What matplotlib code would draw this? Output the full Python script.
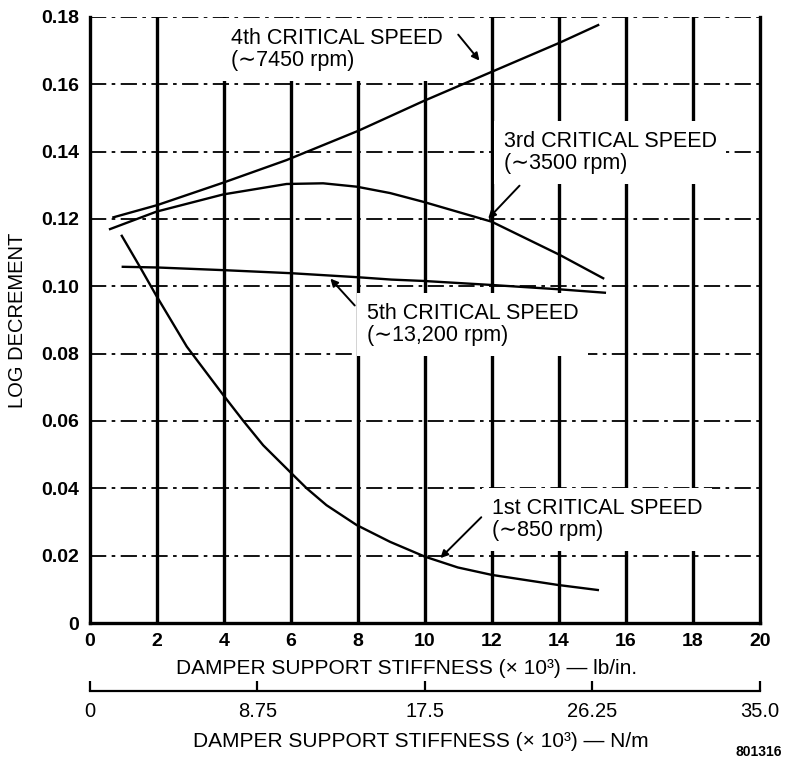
import numpy as np
import matplotlib
matplotlib.use("Agg")
import matplotlib.pyplot as plt

plt.rcParams['font.family'] = ['Liberation Sans', 'DejaVu Sans']

# curves: stiffness (x 10^3 lb/in.) vs log decrement
x_4th = [0.70, 2.0, 3.98, 5.87, 8.01, 9.95, 11.99, 14.03, 15.17]
y_4th = [0.1205, 0.1241, 0.1308, 0.1375, 0.1462, 0.1550, 0.1637, 0.1724, 0.1776]

x_3rd = [0.60, 1.99, 3.98, 5.87, 6.96, 7.96, 8.96, 9.95, 11.99, 14.03, 15.32]
y_3rd = [0.1170, 0.1222, 0.1273, 0.1304, 0.1306, 0.1296, 0.1277, 0.1251, 0.1192, 0.1093, 0.1024]

x_5th = [0.98, 2.0, 4.0, 6.0, 8.0, 9.0, 9.95, 11.99, 14.03, 15.37]
y_5th = [0.1058, 0.1056, 0.1048, 0.1039, 0.1027, 0.1020, 0.1016, 0.1004, 0.0991, 0.0981]

x_1st = [0.95, 1.49, 1.97, 2.89, 3.98, 4.58, 5.17, 5.97, 6.47, 7.06, 7.96, 8.96,
         10.0, 10.98, 11.99, 13.97, 15.16]
y_1st = [0.1150, 0.1058, 0.0974, 0.0821, 0.0677, 0.0600, 0.0528, 0.0449, 0.0400, 0.0350,
         0.0291, 0.0241, 0.0197, 0.0165, 0.0143, 0.0113, 0.0098]

labels = ["4th CRITICAL SPEED\n(\u223c7450 rpm)",
          "3rd CRITICAL SPEED\n(\u223c3500 rpm)",
          "5th CRITICAL SPEED\n(\u223c13,200 rpm)",
          "1st CRITICAL SPEED\n(\u223c850 rpm)"]

x_ticks = np.arange(0, 21, 2)
y_ticks = np.arange(0, 0.181, 0.02)
y_ticklabels = ['0', '0.02', '0.04', '0.06', '0.08', '0.10', '0.12', '0.14', '0.16', '0.18']
si_ticks = [0, 8.75, 17.5, 26.25, 35.0]
si_ticklabels = ['0', '8.75', '17.5', '26.25', '35.0']

fig = plt.figure(figsize=(7.85, 7.72), dpi=100)
ax = fig.add_axes([0.1146, 0.193, 0.8535, 0.785])
ax.set_xlim(0, 20)
ax.set_ylim(0, 0.18)

# grid: heavy solid verticals, dash-dot horizontals
for xv in x_ticks[1:-1]:
    ax.axvline(xv, color='black', lw=2.4, zorder=1)
for yv in y_ticks[1:]:
    ax.axhline(yv, color='black', lw=1.3, ls=(0, (9, 3, 2, 3)), zorder=1)

for sp in ['left', 'right', 'bottom']:
    ax.spines[sp].set_linewidth(2.4)
ax.spines['top'].set_visible(False)

ax.plot(x_4th, y_4th, color='black', lw=1.7, zorder=5)
ax.plot(x_3rd, y_3rd, color='black', lw=1.7, zorder=5)
ax.plot(x_5th, y_5th, color='black', lw=1.7, zorder=5)
ax.plot(x_1st, y_1st, color='black', lw=1.7, zorder=5)

box = dict(facecolor='white', edgecolor='none', pad=7)
tprops = dict(fontsize=15.5, ha='left', va='top', linespacing=1.1, bbox=box, zorder=4)
ax.text(4.2, 0.1768, labels[0], **tprops)
ax.text(12.35, 0.1462, labels[1], **tprops)
ax.text(8.27, 0.0951, labels[2], **tprops)
ax.text(12.0, 0.0372, labels[3], **tprops)

aprops = dict(arrowstyle='-|>', color='black', lw=1.4, mutation_scale=11)
ax.annotate('', xy=(11.68, 0.1664), xytext=(10.94, 0.1754), arrowprops=aprops, zorder=6)
ax.annotate('', xy=(11.83, 0.1195), xytext=(12.88, 0.1305), arrowprops=aprops, zorder=6)
ax.annotate('', xy=(7.12, 0.1029), xytext=(7.96, 0.0937), arrowprops=aprops, zorder=6)
ax.annotate('', xy=(10.4, 0.0187), xytext=(11.74, 0.0320), arrowprops=aprops, zorder=6)

ax.set_xticks(x_ticks)
ax.set_xticklabels([str(v) for v in x_ticks], fontsize=14, fontweight='bold')
ax.set_yticks(y_ticks)
ax.set_yticklabels(y_ticklabels, fontsize=14, fontweight='bold')
ax.tick_params(axis='x', length=0, pad=7)
ax.tick_params(axis='y', length=0, pad=8)
ax.set_xlabel('DAMPER SUPPORT STIFFNESS (\u00d7 10\u00b3) \u2014 lb/in.', fontsize=15, labelpad=7)
ax.xaxis.label.set_x(0.473)
ax.set_ylabel('LOG DECREMENT', fontsize=14.5, labelpad=10)

# second scale in N/m
sec = ax.secondary_xaxis(-0.112, functions=(lambda v: v * 1.75, lambda v: v / 1.75))
sec.set_xticks(si_ticks)
sec.set_xticklabels(si_ticklabels, fontsize=14.5)
sec.spines['bottom'].set_linewidth(1.6)
sec.tick_params(direction='in', length=7, width=1.6, pad=8)
sec.set_xlabel('DAMPER SUPPORT STIFFNESS (\u00d7 10\u00b3) \u2014 N/m', fontsize=15, labelpad=8)
sec.xaxis.label.set_x(0.494)

fig.text(0.996, 0.017, '801316', fontsize=10, fontweight='bold', ha='right', va='bottom')

fig.savefig('out.png', dpi=100)
